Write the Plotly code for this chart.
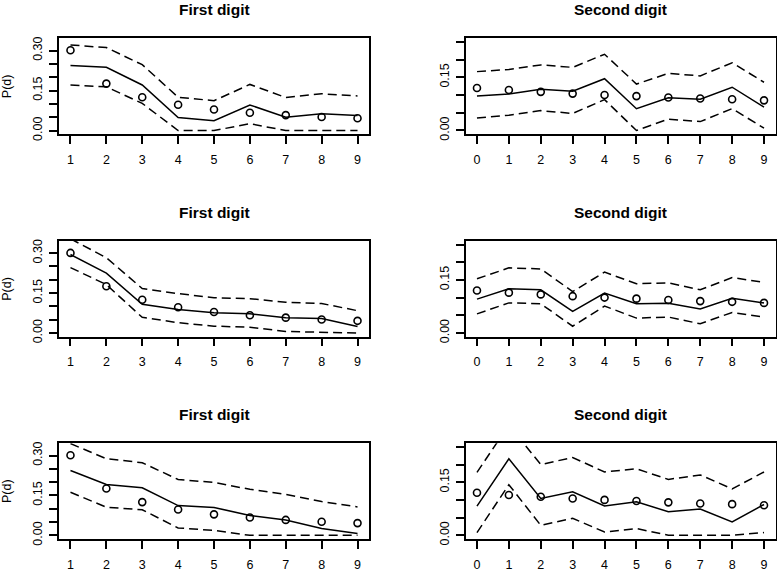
import plotly.graph_objects as go

# ---------------- data ----------------
first_digits = [1, 2, 3, 4, 5, 6, 7, 8, 9]
second_digits = [0, 1, 2, 3, 4, 5, 6, 7, 8, 9]

benford_first = [0.301, 0.176, 0.125, 0.097, 0.079, 0.067, 0.058, 0.051, 0.046]
benford_second = [0.120, 0.114, 0.109, 0.104, 0.100, 0.097, 0.093, 0.090, 0.088, 0.085]

# row 1
r1_first_mid = [0.2435, 0.237, 0.171, 0.049, 0.037, 0.096, 0.050, 0.063, 0.057]
r1_first_up = [0.321, 0.311, 0.247, 0.125, 0.112, 0.173, 0.124, 0.138, 0.130]
r1_first_lo = [0.171, 0.164, 0.102, 0.0, 0.0, 0.026, 0.0, 0.0, 0.0]
r1_second_mid = [0.097, 0.103, 0.116, 0.111, 0.146, 0.0615, 0.092, 0.088, 0.122, 0.066]
r1_second_up = [0.166, 0.172, 0.185, 0.178, 0.215, 0.131, 0.161, 0.154, 0.191, 0.136]
r1_second_lo = [0.035, 0.043, 0.056, 0.048, 0.087, 0.0, 0.032, 0.025, 0.0615, 0.0065]

# row 2
r2_first_mid = [0.295, 0.225, 0.108, 0.0886, 0.076, 0.0726, 0.058, 0.055, 0.0246]
r2_first_up = [0.354, 0.283, 0.167, 0.148, 0.133, 0.129, 0.116, 0.111, 0.084]
r2_first_lo = [0.246, 0.182, 0.059, 0.039, 0.026, 0.022, 0.006, 0.004, 0.0]
r2_second_mid = [0.0956, 0.125, 0.122, 0.061, 0.113, 0.0825, 0.084, 0.0675, 0.098, 0.085]
r2_second_up = [0.153, 0.184, 0.181, 0.117, 0.172, 0.139, 0.1415, 0.122, 0.1565, 0.143]
r2_second_lo = [0.054, 0.085, 0.0825, 0.019, 0.076, 0.042, 0.045, 0.026, 0.058, 0.045]

# row 3
r3_first_mid = [0.244, 0.191, 0.179, 0.112, 0.105, 0.075, 0.058, 0.026, 0.0074]
r3_first_up = [0.345, 0.288, 0.273, 0.210, 0.199, 0.173, 0.154, 0.127, 0.107]
r3_first_lo = [0.162, 0.106, 0.096, 0.028, 0.0185, 0.0, 0.0, 0.0, 0.0]
r3_second_mid = [0.0825, 0.2165, 0.104, 0.123, 0.083, 0.0947, 0.0665, 0.074, 0.0375, 0.087]
r3_second_up = [0.178, 0.312, 0.200, 0.220, 0.179, 0.188, 0.158, 0.1706, 0.131, 0.179]
r3_second_lo = [0.0075, 0.143, 0.028, 0.048, 0.009, 0.019, 0.0, 0.0, 0.0, 0.0075]

first_yticks = [0.0, 0.05, 0.10, 0.15, 0.20, 0.25, 0.30]
first_yticktext = ["0.00", "", "", "0.15", "", "", "0.30"]
second_yticks = [0.0, 0.05, 0.10, 0.15, 0.20, 0.25]
second_yticktext = ["0.00", "", "", "0.15", "", ""]

titles = ["First digit", "Second digit"]
ylabel = "P(d)"

# ---------------- layout geometry ----------------
W, H = 777, 574
FONT = "Liberation Sans, Arial, sans-serif"
col_px = [(59, 369), (465.5, 775.5)]
row_px = [(36.7, 134.3), (242.6, 340.0), (448.2, 545.5)]

panels = [
    (0, 0, first_digits, r1_first_mid, r1_first_up, r1_first_lo, benford_first),
    (0, 1, second_digits, r1_second_mid, r1_second_up, r1_second_lo, benford_second),
    (1, 0, first_digits, r2_first_mid, r2_first_up, r2_first_lo, benford_first),
    (1, 1, second_digits, r2_second_mid, r2_second_up, r2_second_lo, benford_second),
    (2, 0, first_digits, r3_first_mid, r3_first_up, r3_first_lo, benford_first),
    (2, 1, second_digits, r3_second_mid, r3_second_up, r3_second_lo, benford_second),
]

fig = go.Figure()
layout = dict(
    width=W, height=H,
    margin=dict(l=0, r=0, t=0, b=0),
    paper_bgcolor="white", plot_bgcolor="white",
    showlegend=False,
    font=dict(family=FONT, size=12, color="black"),
)
annotations = []

for i, (r, c, xs, mid, up, lo, benf) in enumerate(panels):
    n = i + 1
    xa = "x" if n == 1 else f"x{n}"
    ya = "y" if n == 1 else f"y{n}"
    line_style = dict(color="black", width=1.5)
    fig.add_trace(go.Scatter(x=xs, y=mid, mode="lines", line=line_style,
                             xaxis=xa, yaxis=ya))
    for band in (up, lo):
        fig.add_trace(go.Scatter(x=xs, y=band, mode="lines",
                                 line=dict(color="black", width=1.5, dash="9px,5px"),
                                 xaxis=xa, yaxis=ya))
    fig.add_trace(go.Scatter(x=xs, y=benf, mode="markers",
                             marker=dict(symbol="circle-open", size=7, color="black",
                                         line=dict(width=1.6, color="black")),
                             cliponaxis=False, xaxis=xa, yaxis=ya))

    x0, x1 = col_px[c]
    y0, y1 = row_px[r]
    xdom = [x0 / W, x1 / W]
    ydom = [1 - y1 / H, 1 - y0 / H]
    if c == 0:
        xrange = [0.68, 9.32]
        yrange = [-0.0135, 0.3465]
        ytv, ytt = first_yticks, first_yticktext
    else:
        xrange = [-0.36, 9.36]
        yrange = [-0.0105, 0.2605]
        ytv, ytt = second_yticks, second_yticktext

    axis_common = dict(showline=True, linecolor="black", linewidth=1.5, mirror=True,
                       ticks="outside", ticklen=8, tickwidth=1.5, tickcolor="black",
                       showgrid=False, zeroline=False,
                       tickfont=dict(family=FONT, size=12.5, color="black"))
    layout["xaxis" if n == 1 else f"xaxis{n}"] = dict(
        domain=xdom, range=xrange, anchor=ya, tickmode="array",
        tickvals=xs, ticktext=[str(v) for v in xs], ticklabelstandoff=5, **axis_common)
    layout["yaxis" if n == 1 else f"yaxis{n}"] = dict(
        domain=ydom, range=yrange, anchor=xa, tickmode="array",
        tickvals=ytv, ticktext=ytt, tickangle=-90, ticklabelstandoff=2, **axis_common)

    # panel title
    annotations.append(dict(
        text=f"<b>{titles[c]}</b>", x=(x0 + x1) / 2 / W, y=1 - (y0 - 29) / H,
        xref="paper", yref="paper", xanchor="center", yanchor="middle",
        showarrow=False, font=dict(family=FONT, size=15.5, color="black")))
    if c == 0:
        annotations.append(dict(
            text=ylabel, x=7 / W, y=1 - ((y0 + y1) / 2) / H,
            xref="paper", yref="paper", xanchor="center", yanchor="middle",
            textangle=-90, showarrow=False,
            font=dict(family=FONT, size=12.5, color="black")))

layout["annotations"] = annotations
fig.update_layout(**layout)
fig.write_html("out.html", config={"displayModeBar": False},
               post_script="document.body.style.margin='0';document.body.style.overflow='hidden';")
